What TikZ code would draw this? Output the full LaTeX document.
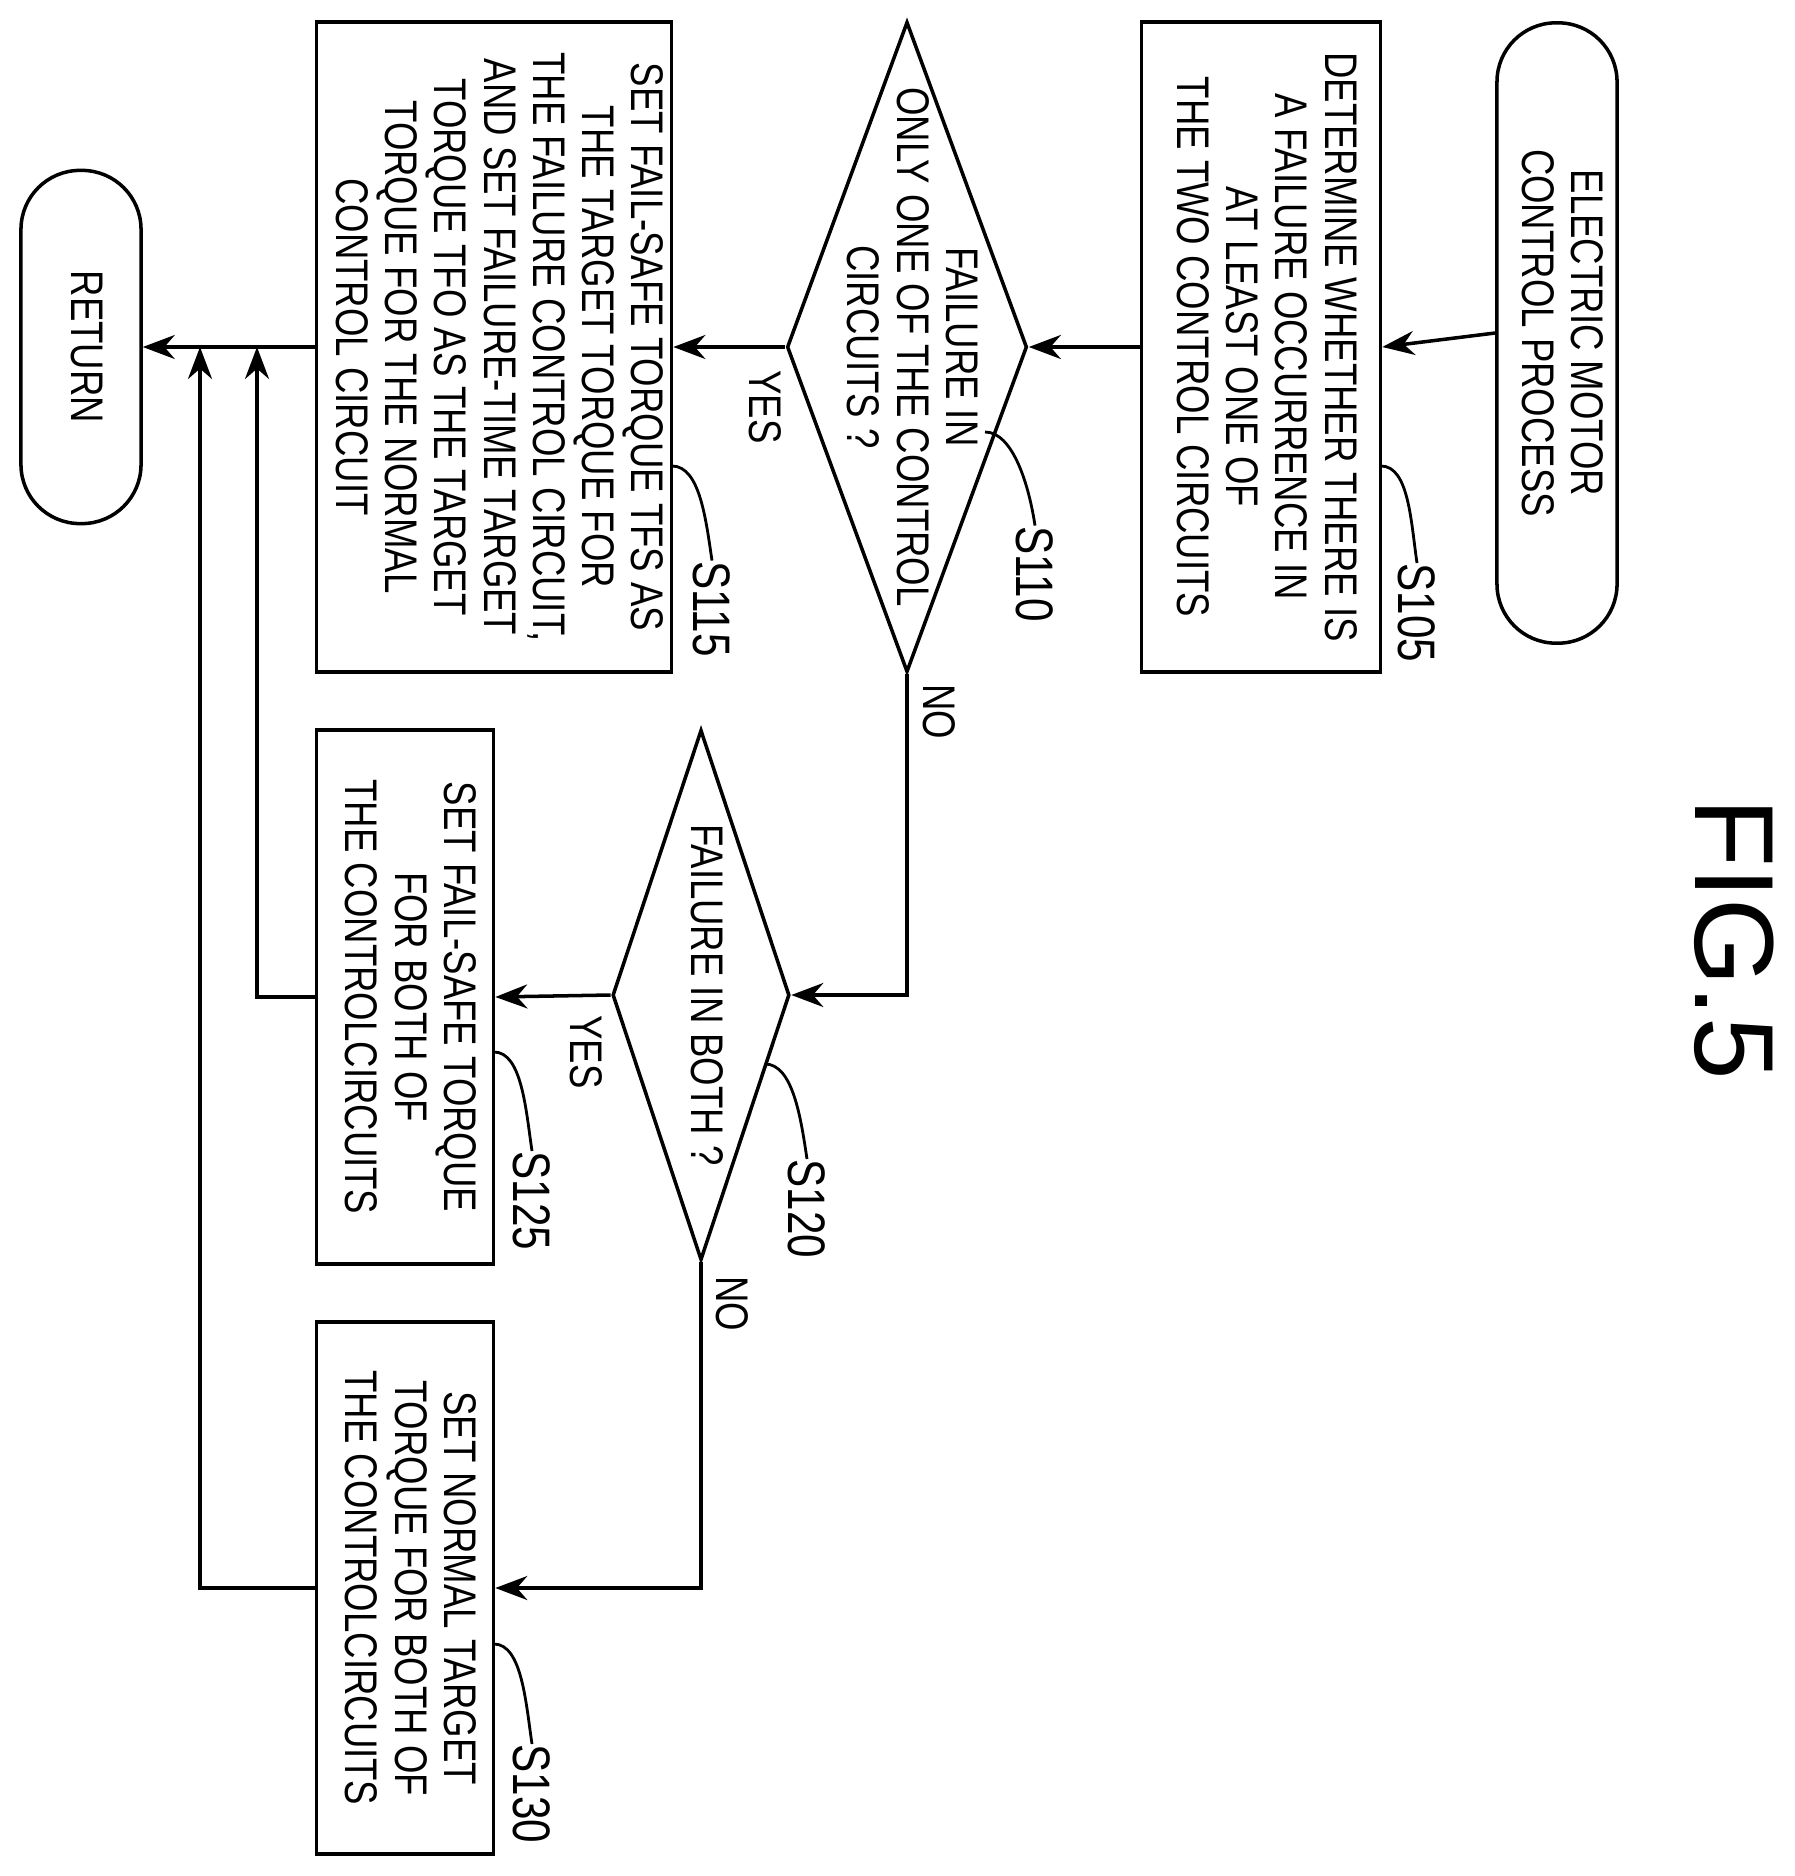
\documentclass[tikz,border=0pt]{standalone}
\usepackage{fontspec}
\setmainfont{Liberation Sans}[FakeStretch=0.8]
\newfontfamily\figfont{Liberation Sans}
\usetikzlibrary{shapes.geometric,arrows.meta}
\newcommand\rt[1]{\rotatebox{-90}{\begin{tabular}{@{}c@{}}#1\end{tabular}}}
\begin{document}
\begin{tikzpicture}[x=0.01cm,y=-0.01cm,
  every node/.style={inner sep=0pt,font=\fontsize{13}{14}\selectfont},
  box/.style={draw,line width=1pt},
  term/.style={draw,line width=1pt,rounded corners=0.59cm},
  dia/.style={draw,line width=1pt,diamond},
  steplbl/.style={font=\fontsize{15}{16}\selectfont},
  ln/.style={line width=1pt},
  arr/.style={line width=1pt,-{Stealth[length=0.32cm,width=0.24cm]}},
  lead/.style={line width=0.8pt}]
\useasboundingbox (0,0) rectangle (1794,1876);
\node[term,minimum width=1.2cm,minimum height=6.2cm] (start) at (1557,333) {\rt{ELECTRIC MOTOR\\CONTROL PROCESS}};
\node[box,minimum width=2.39cm,minimum height=6.5cm] (s105) at (1261,347) {\rt{DETERMINE WHETHER THERE IS\\A FAILURE OCCURRENCE IN\\AT LEAST ONE OF\\THE TWO CONTROL CIRCUITS}};
\node[dia,minimum width=2.4cm,minimum height=6.5cm] (d110) at (907,347) {};
\node (t110) at (907,347) {\rt{FAILURE IN\\ONLY ONE OF THE CONTROL\\CIRCUITS ?}};
\node[box,minimum width=3.55cm,minimum height=6.5cm] (s115) at (494,347) {\rt{SET FAIL-SAFE TORQUE TFS AS\\THE TARGET TORQUE FOR\\THE FAILURE CONTROL CIRCUIT,\\AND SET FAILURE-TIME TARGET\\TORQUE TFO AS THE TARGET\\TORQUE FOR THE NORMAL\\CONTROL CIRCUIT}};
\node[term,minimum width=1.2cm,minimum height=3.53cm] (ret) at (81,347) {\rt{RETURN}};
\node[dia,minimum width=1.77cm,minimum height=5.3cm] (d120) at (701,995) {};
\node (t120) at (701,995) {\rt{FAILURE IN BOTH ?}};
\node[box,minimum width=1.77cm,minimum height=5.34cm] (s125) at (405,997) {\rt{SET FAIL-SAFE TORQUE\\FOR BOTH OF\\THE CONTROLCIRCUITS}};
\node[box,minimum width=1.77cm,minimum height=5.32cm] (s130) at (405,1588) {\rt{SET NORMAL TARGET\\TORQUE FOR BOTH OF\\THE CONTROLCIRCUITS}};
\coordinate (j1) at (257,347);
\coordinate (j2) at (200,347);
\coordinate (k1) at (907,995);
\coordinate (k2) at (701,1588);
\draw[arr] (start.west) -- (s105.east);
\draw[arr] (s105.west) -- (d110.east);
\draw[arr] (d110.west) -- (s115.east);
\draw[arr] (s115.west) -- (ret.east);
\draw[arr] (d110.south) -- (k1) -- (d120.east);
\draw[arr] (d120.west) -- (s125.east);
\draw[arr] (d120.south) -- (k2) -- (s130.east);
\draw[arr] (s125.west) -| (j1);
\draw[arr] (s130.west) -| (j2);
\node[steplbl] (l105) at (1417,613) {\rotatebox{-90}{S105}};
\node[steplbl] (l110) at (1035,574) {\rotatebox{-90}{S110}};
\node[steplbl] (l115) at (712,609) {\rotatebox{-90}{S115}};
\node[steplbl] (l120) at (807,1209) {\rotatebox{-90}{S120}};
\node[steplbl] (l125) at (532,1201) {\rotatebox{-90}{S125}};
\node[steplbl] (l130) at (532,1794) {\rotatebox{-90}{S130}};
\coordinate (a105) at (1381,466); \coordinate (a110) at (985,432);
\coordinate (a115) at (672,466); \coordinate (a120) at (765,1064);
\coordinate (a125) at (494,1052); \coordinate (a130) at (494,1644);
\foreach \n in {105,110,115,120,125,130}
  \draw[lead] (a\n) .. controls +(28,0) and +(-6,-40) .. (l\n.north);
\node (y1) at (765,407) {\rotatebox{-90}{YES}};
\node (y2) at (586,1052) {\rotatebox{-90}{YES}};
\node (n1) at (939,712) {\rotatebox{-90}{NO}};
\node (n2) at (732,1304) {\rotatebox{-90}{NO}};
\node[font=\figfont\fontsize{32}{34}\selectfont] (fig) at (1734,939) {\rotatebox{-90}{FIG.5}};
\end{tikzpicture}
\end{document}
